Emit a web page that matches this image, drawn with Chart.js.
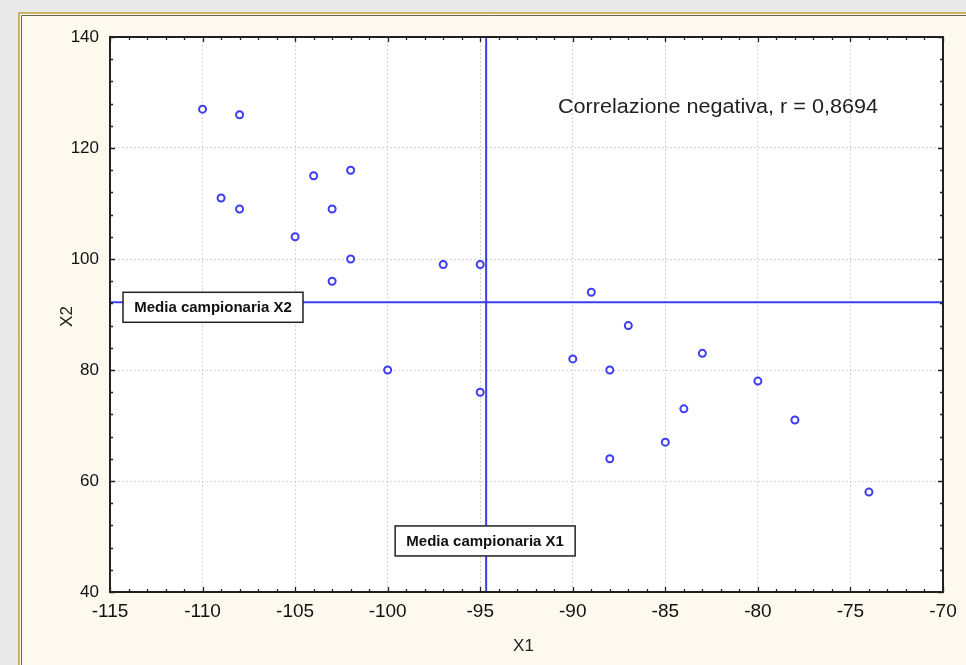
<!DOCTYPE html>
<html>
<head>
<meta charset="utf-8">
<script src="https://cdn.jsdelivr.net/npm/chart.js@4.4.1/dist/chart.umd.min.js"></script>
<style>
html,body{margin:0;padding:0;background:#e9e9e9;}
#wrap{width:966px;height:665px;position:relative;}
</style>
</head>
<body>
<div id="wrap"><canvas id="c" width="966" height="665"></canvas></div>
<script>
// ---- data ----
const x1Values = [-110,-108,-109,-108,-104,-102,-103,-105,-102,-103,-97,-95,-100,-95,-89,-87,-90,-88,-83,-84,-85,-88,-80,-78,-74];
const x2Values = [127,126,111,109,115,116,109,104,100,96,99,99,80,76,94,88,82,80,83,73,67,64,78,71,58];
const meanX1 = -94.68;
const meanX2 = 92.2;
const xRange = [-115, -70];
const yRange = [40, 140];
const xStep = 5, yStep = 20;
const xMinorStep = 1, yMinorStep = 4;
const annotationText = 'Correlazione negativa, r = 0,8694';
const labelX1 = 'Media campionaria X1';
const labelX2 = 'Media campionaria X2';
const axisTitleX = 'X1';
const axisTitleY = 'X2';

const points = x1Values.map((v, i) => ({x: v, y: x2Values[i]}));
const FONT = '"Liberation Sans", Arial, sans-serif';
const BLUE = '#3c3cf2';

const decor = {
  id: 'decor',
  beforeDraw(chart) {
    const ctx = chart.ctx, a = chart.chartArea;
    ctx.save();
    ctx.fillStyle = '#e9e9e9';
    ctx.fillRect(0, 0, chart.width, chart.height);
    ctx.fillStyle = '#fdf9ef';
    ctx.fillRect(20, 14, chart.width - 20, chart.height - 14);
    ctx.strokeStyle = '#c9b466';
    ctx.lineWidth = 2;
    ctx.beginPath();
    ctx.moveTo(19, chart.height); ctx.lineTo(19, 13); ctx.lineTo(chart.width, 13);
    ctx.stroke();
    ctx.strokeStyle = '#6b6650';
    ctx.lineWidth = 1;
    ctx.beginPath();
    ctx.moveTo(21.5, chart.height); ctx.lineTo(21.5, 15.5); ctx.lineTo(chart.width, 15.5);
    ctx.stroke();
    ctx.fillStyle = '#ffffff';
    ctx.fillRect(a.left, a.top, a.right - a.left, a.bottom - a.top);
    ctx.restore();
  },
  afterDatasetsDraw(chart) {
    const ctx = chart.ctx, a = chart.chartArea;
    const xs = chart.scales.x, ys = chart.scales.y;
    ctx.save();
    // frame
    ctx.strokeStyle = '#202020';
    ctx.lineWidth = 2;
    ctx.strokeRect(a.left, a.top, a.right - a.left, a.bottom - a.top);
    // ticks (inward, all four sides)
    ctx.lineWidth = 1.3;
    ctx.beginPath();
    for (let v = xRange[0]; v <= xRange[1] + 1e-9; v += xMinorStep) {
      const px = Math.round(xs.getPixelForValue(v)) + 0.5;
      const len = (Math.abs((v - xRange[0]) % xStep) < 1e-9) ? 5 : 3;
      ctx.moveTo(px, a.bottom); ctx.lineTo(px, a.bottom - len);
      ctx.moveTo(px, a.top); ctx.lineTo(px, a.top + len);
    }
    for (let v = yRange[0]; v <= yRange[1] + 1e-9; v += yMinorStep) {
      const py = Math.round(ys.getPixelForValue(v)) + 0.5;
      const len = (Math.abs((v - yRange[0]) % yStep) < 1e-9) ? 5 : 3;
      ctx.moveTo(a.left, py); ctx.lineTo(a.left + len, py);
      ctx.moveTo(a.right, py); ctx.lineTo(a.right - len, py);
    }
    ctx.stroke();

    // label boxes
    function box(text, cx, cy, w, h) {
      ctx.fillStyle = '#ffffff';
      ctx.fillRect(cx - w / 2, cy - h / 2, w, h);
      ctx.strokeStyle = '#222';
      ctx.lineWidth = 1.5;
      ctx.strokeRect(cx - w / 2, cy - h / 2, w, h);
      ctx.fillStyle = '#111';
      ctx.font = 'bold 15px ' + FONT;
      ctx.textAlign = 'center';
      ctx.textBaseline = 'middle';
      ctx.fillText(text, cx, cy + 1);
    }
    const yMeanPx = ys.getPixelForValue(meanX2);
    box(labelX2, a.left + 13 + 90, yMeanPx + 5, 180, 30);
    const xMeanPx = xs.getPixelForValue(meanX1);
    box(labelX1, xMeanPx - 1, ys.getPixelForValue(49.2), 180, 30);

    // annotation (slightly stretched to match reference width)
    ctx.fillStyle = '#222';
    ctx.font = '20.5px ' + FONT;
    ctx.textAlign = 'left';
    ctx.textBaseline = 'middle';
    const ax = xs.getPixelForValue(-90.8), ay = ys.getPixelForValue(127.4);
    const w = ctx.measureText(annotationText).width;
    const k = 320 / w;
    ctx.save();
    ctx.translate(ax, ay);
    ctx.scale(k, 1);
    ctx.fillText(annotationText, 0, 0);
    ctx.restore();

    // axis titles
    ctx.font = '17px ' + FONT;
    ctx.textAlign = 'center';
    ctx.fillText(axisTitleX, (a.left + a.right) / 2 - 3, 646);
    ctx.translate(67, (a.top + a.bottom) / 2 + 2);
    ctx.rotate(-Math.PI / 2);
    ctx.fillText(axisTitleY, 0, 0);
    ctx.restore();
  }
};

new Chart(document.getElementById('c'), {
  type: 'scatter',
  data: {
    datasets: [
      {
        label: 'meanX1',
        data: [{x: meanX1, y: yRange[0]}, {x: meanX1, y: yRange[1]}],
        showLine: true, borderColor: BLUE, borderWidth: 2, pointRadius: 0
      },
      {
        label: 'meanX2',
        data: [{x: xRange[0], y: meanX2}, {x: xRange[1], y: meanX2}],
        showLine: true, borderColor: BLUE, borderWidth: 2, pointRadius: 0
      },
      {
        label: 'points',
        data: points,
        pointRadius: 3.5, borderWidth: 2,
        borderColor: BLUE, backgroundColor: '#ffffff', pointStyle: 'circle'
      }
    ]
  },
  options: {
    responsive: false,
    animation: false,
    events: [],
    layout: {padding: {top: 37, right: 23, left: 0, bottom: 0}},
    plugins: {legend: {display: false}, tooltip: {enabled: false}},
    scales: {
      x: {
        type: 'linear', min: xRange[0], max: xRange[1],
        afterFit(s) { s.height = 73; },
        ticks: {stepSize: xStep, color: '#111', font: {family: FONT, size: 19}, padding: 8, maxRotation: 0},
        grid: {color: '#d4d4d4', lineWidth: 1, drawTicks: false, borderDash: [2, 2]},
        border: {display: false, dash: [2, 2]}
      },
      y: {
        type: 'linear', min: yRange[0], max: yRange[1],
        afterFit(s) { s.width = 110; },
        ticks: {stepSize: yStep, color: '#111', font: {family: FONT, size: 17}, padding: 11},
        grid: {color: '#d4d4d4', lineWidth: 1, drawTicks: false, borderDash: [2, 2]},
        border: {display: false, dash: [2, 2]}
      }
    }
  },
  plugins: [decor]
});
</script>
</body>
</html>
